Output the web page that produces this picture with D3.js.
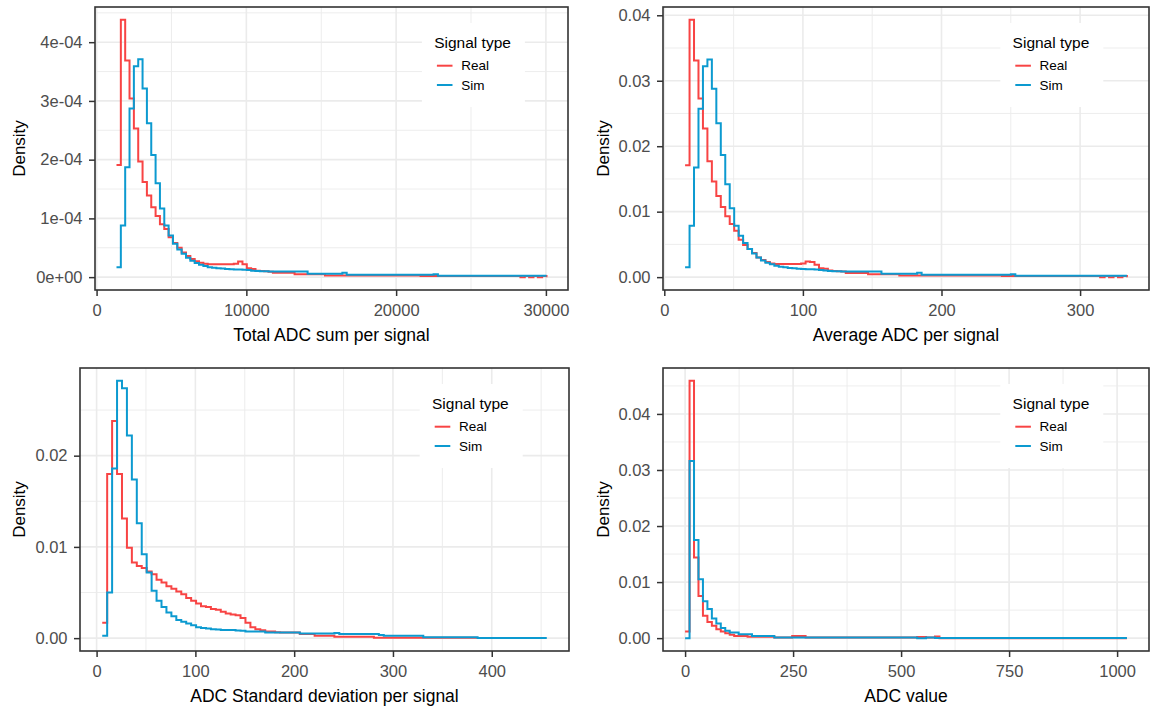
<!DOCTYPE html>
<html>
<head>
<meta charset="utf-8">
<script src="https://cdn.jsdelivr.net/npm/d3@7"></script>
<style>
  body { margin: 0; background: #fff; }
  svg { display: block; font-family: "Liberation Sans", Arial, sans-serif; }
</style>
</head>
<body>
<svg id="chart" width="1151" height="712"></svg>
<script>
// step histograms, [bin centre, density] at every point where the step changes
const sumReal = [[1330,1.91e-4],[1620,4.38e-4],[1910,3.69e-4],[2200,3.04e-4],[2490,2.53e-4],[2780,1.97e-4],[3070,1.62e-4],[3360,1.39e-4],[3650,1.19e-4],[3940,1.04e-4],[4230,9.0e-5],[4520,8.2e-5],[4810,6.8e-5],[5100,5.8e-5],[5390,5.0e-5],[5680,4.2e-5],[5970,3.6e-5],[6260,3.1e-5],[6550,2.7e-5],[6840,2.45e-5],[7130,2.3e-5],[7420,2.2e-5],[9160,2.3e-5],[9450,2.65e-5],[9740,2.2e-5],[10030,1.5e-5],[10320,1.4e-5],[10610,1.1e-5],[10900,1.05e-5],[11190,1.0e-5],[11480,9.0e-6],[11770,7.5e-6],[13220,5.0e-6],[15250,2.7e-6],[21630,1.8e-6],[28300,0],[28590,1.8e-6],[28880,0],[29170,1.8e-6],[29460,0],[29750,1.8e-6],[30040,0]];
const sumSim = [[1330,1.7e-5],[1620,8.8e-5],[1910,1.87e-4],[2200,2.87e-4],[2490,3.59e-4],[2780,3.71e-4],[3070,3.21e-4],[3360,2.62e-4],[3650,2.08e-4],[3940,1.60e-4],[4230,1.17e-4],[4520,8.8e-5],[4810,7.1e-5],[5100,5.7e-5],[5390,4.7e-5],[5680,4.0e-5],[5970,3.3e-5],[6260,2.8e-5],[6550,2.4e-5],[6840,2.1e-5],[7130,1.9e-5],[7420,1.7e-5],[7710,1.6e-5],[8000,1.5e-5],[8290,1.45e-5],[8580,1.4e-5],[8870,1.35e-5],[9160,1.3e-5],[9740,1.25e-5],[10030,1.2e-5],[10320,1.1e-5],[10610,1.05e-5],[10900,1.0e-5],[11480,9.5e-6],[14090,5.6e-6],[16410,7.5e-6],[16700,3.9e-6],[22500,5.0e-6],[22790,2.2e-6],[30040,2.2e-6]];

const avgReal = [[15,0.0171],[18.22,0.0393],[21.44,0.0331],[24.66,0.0273],[27.88,0.0227],[31.1,0.0177],[34.32,0.0146],[37.54,0.0124],[40.76,0.0107],[43.98,0.0093],[47.2,0.0081],[50.42,0.0071],[53.64,0.0057],[56.86,0.0049],[60.08,0.0043],[63.3,0.0037],[66.52,0.0030],[69.74,0.0026],[72.96,0.0023],[76.18,0.0021],[79.4,0.0020],[98.72,0.0021],[101.94,0.0024],[105.16,0.0023],[108.38,0.0019],[111.6,0.00137],[114.82,0.0013],[118.04,0.0010],[121.26,0.00095],[124.48,0.0009],[127.7,0.00085],[130.92,0.00065],[147.02,0.00046],[169.56,0.00024],[243.62,0.00016],[314.46,0],[317.68,0.00016],[320.9,0],[324.12,0.00016],[327.34,0],[330.56,0.00016],[333.78,0]];
const avgSim = [[15,0.00152],[18.22,0.00786],[21.44,0.01676],[24.66,0.02574],[27.88,0.03223],[31.1,0.03325],[34.32,0.02879],[37.54,0.0235],[40.76,0.01867],[43.98,0.0142],[47.2,0.01051],[50.42,0.00786],[53.64,0.00634],[56.86,0.0052],[60.08,0.0043],[63.3,0.0036],[66.52,0.0030],[69.74,0.00255],[72.96,0.0022],[76.18,0.00195],[79.4,0.00175],[82.62,0.0016],[85.84,0.0015],[89.06,0.0014],[92.28,0.00135],[95.5,0.0013],[98.72,0.00125],[101.94,0.0012],[108.38,0.00115],[111.6,0.0011],[114.82,0.0010],[118.04,0.00095],[121.26,0.0009],[127.7,0.00085],[156.68,0.0005],[182.44,0.00068],[185.66,0.00035],[250.06,0.00045],[253.28,0.0002],[333.78,0.0002]];

const sdReal = [[5.7,0.0017],[10.7,0.0180],[15.7,0.0238],[20.7,0.0180],[25.7,0.0131],[30.7,0.0099],[35.7,0.0083],[40.7,0.0079],[45.7,0.0077],[50.7,0.0073],[55.7,0.0070],[60.7,0.0064],[65.7,0.0061],[70.7,0.0057],[75.7,0.0054],[80.7,0.0051],[85.7,0.0048],[90.7,0.0044],[95.7,0.0041],[100.7,0.0038],[105.7,0.0035],[110.7,0.0034],[115.7,0.0032],[120.7,0.0031],[125.7,0.0029],[130.7,0.0027],[135.7,0.0026],[140.7,0.0025],[145.7,0.0022],[150.7,0.0017],[155.7,0.0012],[160.7,0.00098],[165.7,0.00087],[170.7,0.00073],[180.7,0.00065],[185.7,0.00062],[205.7,0.00044],[220.7,0.00025],[240.7,0.00014],[280.7,0.00003],[385.7,0.00003]];
const sdSim = [[5.7,0.00025],[10.7,0.0050],[15.7,0.0186],[20.7,0.0282],[25.7,0.0274],[30.7,0.0222],[35.7,0.0174],[40.7,0.0126],[45.7,0.0092],[50.7,0.0072],[55.7,0.0052],[60.7,0.0041],[65.7,0.0034],[70.7,0.0028],[75.7,0.0024],[80.7,0.0020],[85.7,0.0018],[90.7,0.0016],[95.7,0.0014],[100.7,0.0012],[105.7,0.0011],[110.7,0.00105],[115.7,0.00098],[120.7,0.00095],[125.7,0.0009],[130.7,0.00088],[140.7,0.00085],[145.7,0.0008],[150.7,0.00073],[170.7,0.00062],[205.7,0.00051],[240.7,0.00055],[245.7,0.00044],[285.7,0.00034],[290.7,0.00025],[330.7,0.0001],[385.7,0.00002],[455.7,0.00002]];

const adcReal = [[0,0.0012],[10.33,0.0459],[20.66,0.0144],[30.99,0.0075],[41.32,0.0040],[51.65,0.0029],[61.98,0.0022],[72.31,0.0016],[82.64,0.0012],[92.97,0.00085],[103.3,0.0006],[113.63,0.0004],[144.62,0.00025],[206.6,0.00012],[247.92,0.0004],[278.91,0.0001],[537.16,0.0002],[557.82,0.0001],[578.48,0.0003],[588.81,0],[1022.7,0]];
const adcSim = [[0,0],[10.33,0.0316],[20.66,0.0175],[30.99,0.0105],[41.32,0.0066],[51.65,0.0052],[61.98,0.0035],[72.31,0.0026],[82.64,0.0018],[92.97,0.0013],[103.3,0.0010],[123.96,0.0007],[154.95,0.0004],[206.6,0.00012],[537.16,0],[557.82,0.00012],[578.48,0.00003],[1022.7,0.00003]];

// tick values and labels
const sumXTicks = [0, 10000, 20000, 30000];
const sumYTicks = [0, 1e-4, 2e-4, 3e-4, 4e-4];
const avgXTicks = [0, 100, 200, 300];
const avgYTicks = [0, 0.01, 0.02, 0.03, 0.04];
const sdXTicks = [0, 100, 200, 300, 400];
const sdYTicks = [0, 0.01, 0.02];
const adcXTicks = [0, 250, 500, 750, 1000];
const adcYTicks = [0, 0.01, 0.02, 0.03, 0.04];

const xTitles = ["Total ADC sum per signal", "Average ADC per signal", "ADC Standard deviation per signal", "ADC value"];
const seriesNames = ["Real", "Sim"];
const colors = ["#F84444", "#0C9AD0"];

// ggplot-ish "0e+00" labels
function sci(v) {
  let [m, e] = d3.format(".0e")(v).split("e");
  return m + "e" + e[0] + e.slice(1).padStart(2, "0");
}

const panels = [
  { series: [sumReal, sumSim], xt: sumXTicks, yt: sumYTicks, yfmt: sci, title: xTitles[0],
    left: 95, right: 568, top: 7, bottom: 290, yTitleX: 18.5 },
  { series: [avgReal, avgSim], xt: avgXTicks, yt: avgYTicks, yfmt: d3.format(".2f"), title: xTitles[1],
    left: 663, right: 1149, top: 7, bottom: 290, yTitleX: 603 },
  { series: [sdReal, sdSim], xt: sdXTicks, yt: sdYTicks, yfmt: d3.format(".2f"), title: xTitles[2],
    left: 80, right: 569, top: 368, bottom: 651, yTitleX: 18.5 },
  { series: [adcReal, adcSim], xt: adcXTicks, yt: adcYTicks, yfmt: d3.format(".2f"), title: xTitles[3],
    left: 663, right: 1149, top: 368, bottom: 651, yTitleX: 603 }
];

let svg = d3.select("#chart");

// 5% padding on each side like ggplot's default expansion
function expand(lo, hi) {
  let pad = (hi - lo) * 0.05;
  return [lo - pad, hi + pad];
}

// minor grid positions halfway between the major ticks
function minors(t, dom) {
  let step = t[1] - t[0];
  let out = [];
  for (let v = t[0] - step / 2; v <= dom[1]; v += step) {
    if (v >= dom[0]) out.push(v);
  }
  return out;
}

panels.forEach((p) => {
  let all = p.series.flat();
  let xDom = expand(d3.min(all, (d) => d[0]), d3.max(all, (d) => d[0]));
  let yDom = expand(0, d3.max(all, (d) => d[1]));

  let x = d3.scaleLinear().domain(xDom).range([p.left, p.right]);
  let y = d3.scaleLinear().domain(yDom).range([p.bottom, p.top]);

  let g = svg.append("g");

  g.append("rect")
    .attr("x", p.left).attr("y", p.top)
    .attr("width", p.right - p.left).attr("height", p.bottom - p.top)
    .attr("fill", "#fff");

  // grid
  g.selectAll(".vminor").data(minors(p.xt, xDom)).enter().append("line")
    .attr("x1", (d) => x(d)).attr("x2", (d) => x(d))
    .attr("y1", p.top).attr("y2", p.bottom)
    .attr("stroke", "#EBEBEB").attr("stroke-width", 0.9);
  g.selectAll(".hminor").data(minors(p.yt, yDom)).enter().append("line")
    .attr("x1", p.left).attr("x2", p.right)
    .attr("y1", (d) => y(d)).attr("y2", (d) => y(d))
    .attr("stroke", "#EBEBEB").attr("stroke-width", 0.9);
  g.selectAll(".vmajor").data(p.xt).enter().append("line")
    .attr("x1", (d) => x(d)).attr("x2", (d) => x(d))
    .attr("y1", p.top).attr("y2", p.bottom)
    .attr("stroke", "#EBEBEB").attr("stroke-width", 1.6);
  g.selectAll(".hmajor").data(p.yt).enter().append("line")
    .attr("x1", p.left).attr("x2", p.right)
    .attr("y1", (d) => y(d)).attr("y2", (d) => y(d))
    .attr("stroke", "#EBEBEB").attr("stroke-width", 1.6);

  // step lines, Real first so Sim sits on top
  let line = d3.line()
    .x((d) => x(d[0]))
    .y((d) => y(d[1]))
    .curve(d3.curveStepAfter);

  p.series.forEach((s, i) => {
    g.append("path")
      .datum(s)
      .attr("d", line)
      .attr("fill", "none")
      .attr("stroke", colors[i])
      .attr("stroke-width", 2);
  });

  // axes
  let xAxis = g.append("g")
    .attr("transform", "translate(0," + p.bottom + ")")
    .call(d3.axisBottom(x).tickValues(p.xt).tickSize(6).tickPadding(8).tickFormat(d3.format("d")));
  let yAxis = g.append("g")
    .attr("transform", "translate(" + p.left + ",0)")
    .call(d3.axisLeft(y).tickValues(p.yt).tickSize(6).tickPadding(6.5).tickFormat(p.yfmt));

  [xAxis, yAxis].forEach((a) => {
    a.select(".domain").remove();
    a.selectAll("line").attr("stroke", "#333").attr("stroke-width", 1.5);
    a.selectAll("text")
      .attr("fill", "#4D4D4D")
      .style("font-size", "16.5px")
      .style("font-family", "'Liberation Sans', Arial, sans-serif");
  });

  // border
  g.append("rect")
    .attr("x", p.left).attr("y", p.top)
    .attr("width", p.right - p.left).attr("height", p.bottom - p.top)
    .attr("fill", "none").attr("stroke", "#333").attr("stroke-width", 1.6);

  // axis titles
  g.append("text")
    .text(p.title)
    .attr("x", (p.left + p.right) / 2)
    .attr("y", p.bottom + 51)
    .attr("text-anchor", "middle")
    .style("font-size", "17.5px")
    .attr("fill", "#000");

  g.append("text")
    .text("Density")
    .attr("transform", "translate(" + (p.yTitleX + 6) + "," + (p.top + p.bottom) / 2 + ") rotate(-90)")
    .attr("text-anchor", "middle")
    .style("font-size", "17px")
    .attr("fill", "#000");

  // legend inside the panel
  let bw = 103, bh = 84;
  let bx = p.left + 0.8 * (p.right - p.left) - bw / 2;
  let by = p.top + 16;
  let leg = g.append("g").attr("transform", "translate(" + bx + "," + by + ")");

  leg.append("rect").attr("width", bw).attr("height", bh).attr("fill", "#fff");
  leg.append("text")
    .text("Signal type")
    .attr("x", 12.3).attr("y", 25)
    .style("font-size", "15.5px")
    .attr("fill", "#000");

  seriesNames.forEach((name, i) => {
    let ky = 42.7 + i * 19.3;
    leg.append("line")
      .attr("x1", 15).attr("x2", 30.6)
      .attr("y1", ky).attr("y2", ky)
      .attr("stroke", colors[i]).attr("stroke-width", 2);
    leg.append("text")
      .text(name)
      .attr("x", 39.3).attr("y", ky + 4.7)
      .style("font-size", "13.5px")
      .attr("fill", "#000");
  });
});
</script>
</body>
</html>
